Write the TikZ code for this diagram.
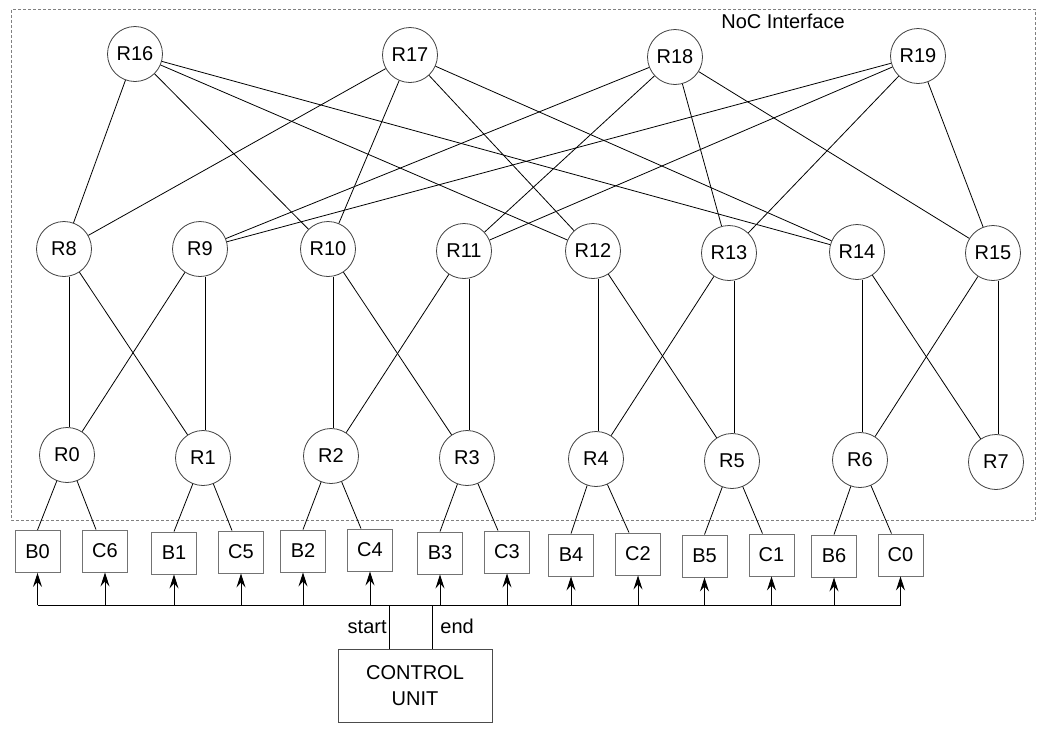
\documentclass[tikz,border=0pt]{standalone}
\usepackage{fontspec}
\setmainfont{Liberation Sans}
\usetikzlibrary{arrows.meta}
\tikzset{
  router/.style={circle, draw=black!75, line width=0.8pt, minimum size=55pt, inner sep=0pt},
  buf/.style={rectangle, draw=black!55, line width=0.9pt, minimum width=45pt, minimum height=42pt, inner sep=0pt},
  link/.style={line width=0.8pt},
}

\begin{document}
\begin{tikzpicture}[x=1pt,y=-1pt,>={Stealth[length=14pt,width=9pt,inset=5pt]},font=\fontsize{20}{26}\selectfont]
\useasboundingbox (0,0) rectangle (1053,745);
%%%INTERFACE
\draw[gray, line width=0.8pt, dash pattern=on 3pt off 2pt] (11.5,9.5) rectangle (1035.5,520);
\node (noc) at (783,21) {NoC Interface};
%%%ROUTERS
\foreach \n/\x/\y in {16/135/54, 17/410/55, 18/675/57, 19/918/56,
  8/64/249, 9/200/249, 10/328/249, 11/464/251, 12/593/251, 13/729/253, 14/857/252, 15/993/253,
  0/67/455, 1/203/458, 2/331/456, 3/467/458, 4/596/459, 5/732/461, 6/860/460, 7/996/462}
  \node[router] (R\n) at (\x,\y) {R\n};
%%%BUFFERS
\foreach \n/\x/\y in {B0/37.5/551.5, C6/105/551, B1/174/553, C5/241/552, B2/303/551, C4/370/550, B3/440/553,
  C3/507/552, B4/571/555, C2/638/554, B5/704.5/556, C1/771.5/555, B6/834/556, C0/900.5/555}
  \node[buf] (\n) at (\x,\y) {\n};
%%%LINKS
\foreach \a/\b in {16/8, 16/10, 16/12, 16/14, 17/8, 17/10, 17/12, 17/14,
  18/9, 18/11, 18/13, 18/15, 19/9, 19/11, 19/13, 19/15}
  \draw[link] (R\a) -- (R\b);
% straight down
\foreach \a/\b in {8/0, 9/1, 10/2, 11/3, 12/4, 13/5, 14/6, 15/7}
  \draw[link] ([xshift=2pt]R\b.north) -- ([xshift=2pt]R\b.north |- R\a.south);
% crossing
\foreach \a/\b in {8/1, 9/0, 10/3, 11/2, 12/5, 13/4, 14/7, 15/6}
  \draw[link] (R\a) -- (R\b);
\foreach \r/\b/\c in {0/B0/C6, 1/B1/C5, 2/B2/C4, 3/B3/C3, 4/B4/C2, 5/B5/C1, 6/B6/C0}
  \draw[link] (R\r) -- (\b.north) (R\r) -- ([xshift=-9pt]\c.north);
%%%CONTROL
\coordinate (bus) at (0,605);
\draw[link] (B0.south |- bus) -- (C0.south |- bus);
\foreach \n in {B0, C6, B1, C5, B2, C4, B3, C3, B4, C2, B5, C1, B6, C0}
  \draw[link,->] (\n.south |- bus) -- (\n.south);
\node[draw=black!70, line width=0.9pt, minimum width=154pt, minimum height=73pt, align=center] (cu) at (415,685.5) {CONTROL\\UNIT};
\coordinate (st) at (389,605);
\coordinate (en) at (432,605);
\draw[link] (st) -- (st |- cu.north) node[midway, left, inner sep=2pt] {start};
\draw[link] (en) -- (en |- cu.north) node[midway, right, inner sep=8pt] {end};
\end{tikzpicture}
\end{document}
